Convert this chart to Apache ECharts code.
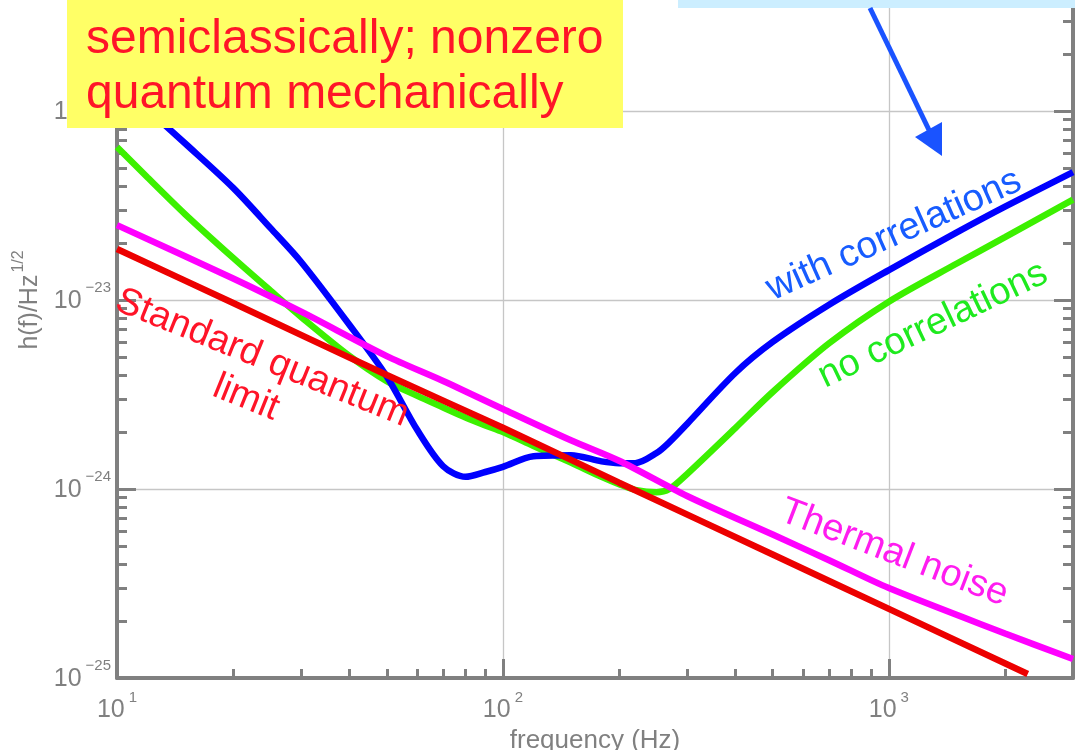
<!DOCTYPE html>
<html>
<head>
<meta charset="utf-8">
<script src="https://cdn.jsdelivr.net/npm/echarts@6/dist/echarts.min.js"></script>
<style>
html,body{margin:0;padding:0;background:#ffffff;}
#chart{width:1075px;height:750px;}
</style>
</head>
<body>
<div id="chart"></div>
<script>
// ---- data (strain in 1/sqrt(Hz)) ----
const freq = [10, 12, 15, 20, 25, 30, 40, 50, 60, 70, 80, 90, 100, 120, 150, 180, 200, 220, 250, 270, 300, 400, 500, 700, 1000, 1500, 2000, 3000];
const withCorrelations = [1.44e-22, 1.02e-22, 6.75e-23, 3.92e-23, 2.40e-23, 1.59e-23, 7.40e-24, 3.94e-24, 2.05e-24, 1.32e-24, 1.16e-24, 1.23e-24, 1.31e-24, 1.49e-24, 1.51e-24, 1.40e-24, 1.37e-24, 1.37e-24, 1.55e-24, 1.77e-24, 2.21e-24, 4.11e-24, 6.00e-24, 9.44e-24, 1.44e-23, 2.28e-23, 3.12e-23, 4.75e-23];
const noCorrelations = [6.45e-23, 4.45e-23, 2.85e-23, 1.67e-23, 1.12e-23, 8.13e-24, 5.06e-24, 3.72e-24, 3.11e-24, 2.70e-24, 2.39e-24, 2.17e-24, 2.00e-24, 1.69e-24, 1.38e-24, 1.16e-24, 1.06e-24, 9.9e-25, 9.6e-25, 1.00e-24, 1.20e-24, 2.10e-24, 3.26e-24, 5.90e-24, 9.80e-24, 1.56e-23, 2.15e-23, 3.40e-23];
const thermalFreq = [10, 20, 30, 50, 70, 100, 150, 200, 300, 500, 700, 1000, 2000, 3000];
const thermalNoise = [2.49e-23, 1.30e-23, 8.67e-24, 5.05e-24, 3.73e-24, 2.65e-24, 1.81e-24, 1.41e-24, 9.18e-25, 5.74e-25, 4.20e-25, 2.99e-25, 1.72e-25, 1.26e-25];
const sqlFreq = [10, 20, 50, 100, 200, 500, 1000, 2290];
const standardQuantumLimit = [1.86e-23, 9.64e-24, 4.01e-24, 2.11e-24, 1.08e-24, 4.50e-25, 2.32e-25, 1.05e-25];

// ---- axes / ticks ----
const xMin = 10, xMax = 3000;
const yMin = 1e-25, yMax = 1e-21;
const xMajorTicks = [10, 100, 1000];
const xMinorTicks = [20, 30, 40, 50, 60, 70, 80, 90, 200, 300, 400, 500, 600, 700, 800, 900, 2000, 3000];
const yMajorTicks = [1e-25, 1e-24, 1e-23, 1e-22, 1e-21];
const yMinorTicks = [
  2e-25, 3e-25, 4e-25, 5e-25, 6e-25, 7e-25, 8e-25, 9e-25,
  2e-24, 3e-24, 4e-24, 5e-24, 6e-24, 7e-24, 8e-24, 9e-24,
  2e-23, 3e-23, 4e-23, 5e-23, 6e-23, 7e-23, 8e-23, 9e-23,
  2e-22, 3e-22, 4e-22, 5e-22, 6e-22, 7e-22, 8e-22, 9e-22
];
const xTitle = 'frequency (Hz)';
const yTitleMain = 'h(f)/Hz';
const yTitleSup = '1/2';
const seriesNames = ['no correlations', 'with correlations', 'Standard quantum limit', 'Thermal noise'];

// ECharts rounds tick values to 20 decimals, so the y axis works in units of 1e-25
const Y_UNIT_EXP = -25;
const Y_UNIT = 1e-25;
const toAxisY = v => v / Y_UNIT;

const FONT = '"Liberation Sans", Arial, Helvetica, sans-serif';
const GRAY = '#808080';

function supText(e) { return e < 0 ? '\u2212' + (-e) : String(e); }
function xLabel(v) { return '{b|10}{s|' + supText(Math.round(Math.log10(v))) + '}'; }
function yLabel(v) { return '{b|10}{s|' + supText(Math.round(Math.log10(v)) + Y_UNIT_EXP) + '}'; }
const labelRich = {
  b: { fontSize: 25, color: GRAY, fontFamily: FONT, verticalAlign: 'bottom' },
  s: { fontSize: 15, color: GRAY, fontFamily: FONT, verticalAlign: 'bottom', padding: [0, 0, 18, 4] }
};

function pairs(xs, ys) { return xs.map((x, i) => [x, toAxisY(ys[i])]); }

const chart = echarts.init(document.getElementById('chart'), null, { renderer: 'canvas' });

const axisLineStyle = { show: true, lineStyle: { color: GRAY, width: 4 } };
const yAxisBase = { type: 'log', logBase: 10, min: toAxisY(yMin), max: toAxisY(yMax) };
const yMajorAxisTicks = yMajorTicks.map(toAxisY);
const yMinorAxisTicks = yMinorTicks.map(toAxisY);

const option = {
  animation: false,
  backgroundColor: '#ffffff',
  grid: { left: 117, right: 2, top: -78, bottom: 72, containLabel: false, outerBoundsMode: 'none' },
  xAxis: [
    {
      type: 'log', logBase: 10, min: xMin, max: xMax, position: 'bottom',
      axisLine: axisLineStyle,
      axisTick: { show: true, inside: true, length: 19, customValues: xMajorTicks, lineStyle: { color: GRAY, width: 3 } },
      axisLabel: { show: true, customValues: xMajorTicks, margin: 12, formatter: xLabel, rich: labelRich },
      splitLine: { show: true, lineStyle: { color: '#c6c6c6', width: 1.3 } },
      name: xTitle, nameLocation: 'middle', nameGap: 42,
      nameTextStyle: { fontSize: 26, color: GRAY, fontFamily: FONT }
    },
    {
      type: 'log', logBase: 10, min: xMin, max: xMax, position: 'bottom',
      axisLine: { show: false },
      axisTick: { show: true, inside: true, length: 9, customValues: xMinorTicks, lineStyle: { color: GRAY, width: 3 } },
      axisLabel: { show: false }, splitLine: { show: false }
    }
  ],
  yAxis: [
    Object.assign({}, yAxisBase, {
      position: 'left',
      axisLine: axisLineStyle,
      axisTick: { show: true, inside: true, length: 19, customValues: yMajorAxisTicks, lineStyle: { color: GRAY, width: 3 } },
      axisLabel: { show: true, customValues: yMajorAxisTicks, margin: 6, padding: [0, 0, 6, 0], formatter: yLabel, rich: labelRich },
      splitLine: { show: true, lineStyle: { color: '#c6c6c6', width: 1.3 } },
      name: '{a|' + yTitleMain + '}{s|' + yTitleSup + '}',
      nameLocation: 'middle', nameRotate: 90, nameGap: 70,
      nameTextStyle: {
        rich: {
          a: { fontSize: 25, color: GRAY, fontFamily: FONT, verticalAlign: 'bottom' },
          s: { fontSize: 16, color: GRAY, fontFamily: FONT, verticalAlign: 'bottom', padding: [0, 0, 16, 2] }
        }
      }
    }),
    Object.assign({}, yAxisBase, {
      position: 'left',
      axisLine: { show: false },
      axisTick: { show: true, inside: true, length: 10, customValues: yMinorAxisTicks, lineStyle: { color: GRAY, width: 3 } },
      axisLabel: { show: false }, splitLine: { show: false }
    }),
    Object.assign({}, yAxisBase, {
      position: 'right',
      axisLine: axisLineStyle,
      axisTick: { show: true, inside: true, length: 19, customValues: yMajorAxisTicks, lineStyle: { color: GRAY, width: 3 } },
      axisLabel: { show: false }, splitLine: { show: false }
    }),
    Object.assign({}, yAxisBase, {
      position: 'right',
      axisLine: { show: false },
      axisTick: { show: true, inside: true, length: 10, customValues: yMinorAxisTicks, lineStyle: { color: GRAY, width: 3 } },
      axisLabel: { show: false }, splitLine: { show: false }
    })
  ],
  series: [
    { name: seriesNames[0], type: 'line', data: pairs(freq, noCorrelations), showSymbol: false, smooth: 0.3,
      lineStyle: { color: '#3cf000', width: 6.5 }, itemStyle: { color: '#3cf000' }, z: 2 },
    { name: seriesNames[1], type: 'line', data: pairs(freq, withCorrelations), showSymbol: false, smooth: 0.3,
      lineStyle: { color: '#0000ff', width: 6.5 }, itemStyle: { color: '#0000ff' }, z: 3 },
    { name: seriesNames[2], type: 'line', data: pairs(sqlFreq, standardQuantumLimit), showSymbol: false, smooth: 0.3,
      lineStyle: { color: '#ec0000', width: 6.5 }, itemStyle: { color: '#ec0000' }, z: 4 },
    { name: seriesNames[3], type: 'line', data: pairs(thermalFreq, thermalNoise), showSymbol: false, smooth: 0.3,
      lineStyle: { color: '#ff00ff', width: 6.5 }, itemStyle: { color: '#ff00ff' }, z: 5 }
  ],
  graphic: [
    { type: 'rect', z: 100, shape: { x: 678, y: 0, width: 397, height: 8 }, style: { fill: '#cceeff' } },
    { type: 'line', z: 100, shape: { x1: 870, y1: 8, x2: 929, y2: 130 }, style: { stroke: '#1a53ff', lineWidth: 5 } },
    { type: 'polygon', z: 100, shape: { points: [[915, 137], [942, 122], [942, 156]] }, style: { fill: '#1a53ff' } },
    { type: 'rect', z: 100, shape: { x: 67, y: 0, width: 556, height: 128 }, style: { fill: '#ffff66' } },
    { type: 'text', z: 101, x: 86, y: 67,
      style: { text: 'semiclassically; nonzero\nquantum mechanically', font: '48px ' + FONT, fill: '#ff1428',
               lineHeight: 55, textAlign: 'left', textVerticalAlign: 'middle', align: 'left', verticalAlign: 'middle' } },
    { type: 'text', z: 101, x: 894, y: 235, rotation: 24 * Math.PI / 180,
      style: { text: 'with correlations', font: '38px ' + FONT, fill: '#175cff',
               textAlign: 'center', textVerticalAlign: 'middle', align: 'center', verticalAlign: 'middle' } },
    { type: 'text', z: 101, x: 933, y: 325, rotation: 25.5 * Math.PI / 180,
      style: { text: 'no correlations', font: '38px ' + FONT, fill: '#1eea1e',
               textAlign: 'center', textVerticalAlign: 'middle', align: 'center', verticalAlign: 'middle' } },
    { type: 'text', z: 101, x: 894, y: 553, rotation: -21 * Math.PI / 180,
      style: { text: 'Thermal noise', font: '38px ' + FONT, fill: '#ff1cf0',
               textAlign: 'center', textVerticalAlign: 'middle', align: 'center', verticalAlign: 'middle' } },
    { type: 'text', z: 101, x: 254, y: 378, rotation: -22 * Math.PI / 180,
      style: { text: 'Standard quantum\nlimit', font: '38px ' + FONT, fill: '#ff1428', lineHeight: 43,
               textAlign: 'center', textVerticalAlign: 'middle', align: 'center', verticalAlign: 'middle' } }
  ]
};
chart.setOption(option);
</script>
</body>
</html>
